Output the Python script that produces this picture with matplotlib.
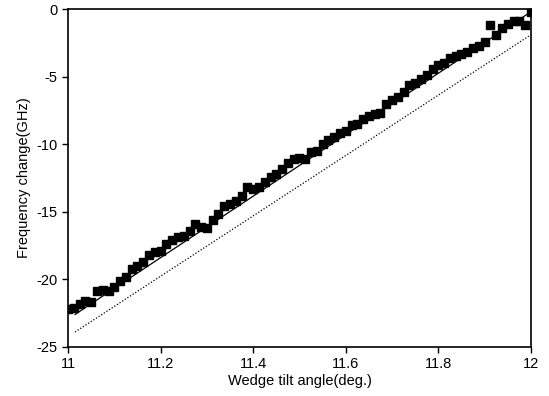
import matplotlib
matplotlib.use("Agg")
import matplotlib.pyplot as plt

angle = [11.0000, 11.0125, 11.0250, 11.0375, 11.0500, 11.0625, 11.0750, 11.0875, 11.1000, 11.1125,
         11.1250, 11.1375, 11.1500, 11.1625, 11.1750, 11.1875, 11.2000, 11.2125, 11.2250, 11.2375,
         11.2500, 11.2625, 11.2750, 11.2875, 11.3000, 11.3125, 11.3250, 11.3375, 11.3500, 11.3625,
         11.3750, 11.3875, 11.4000, 11.4125, 11.4250, 11.4375, 11.4500, 11.4625, 11.4750, 11.4875,
         11.5000, 11.5125, 11.5250, 11.5375, 11.5500, 11.5625, 11.5750, 11.5875, 11.6000, 11.6125,
         11.6250, 11.6375, 11.6500, 11.6625, 11.6750, 11.6875, 11.7000, 11.7125, 11.7250, 11.7375,
         11.7500, 11.7625, 11.7750, 11.7875, 11.8000, 11.8125, 11.8250, 11.8375, 11.8500, 11.8625,
         11.8750, 11.8875, 11.9000, 11.9125, 11.9250, 11.9375, 11.9500, 11.9625, 11.9750, 11.9875,
         12.0000]
freq = [-22.2, -22.1, -21.8, -21.6, -21.7, -20.9, -20.8, -20.9, -20.6, -20.1,
        -19.8, -19.2, -19.0, -18.7, -18.2, -18.0, -17.9, -17.4, -17.1, -16.9,
        -16.8, -16.4, -15.9, -16.1, -16.2, -15.6, -15.2, -14.6, -14.4, -14.2,
        -13.8, -13.2, -13.3, -13.2, -12.8, -12.4, -12.2, -11.8, -11.4, -11.1,
        -11.0, -11.1, -10.6, -10.5, -10.0, -9.7, -9.5, -9.2, -9.0, -8.6,
        -8.5, -8.1, -7.9, -7.8, -7.7, -7.0, -6.7, -6.5, -6.1, -5.6,
        -5.5, -5.2, -4.9, -4.4, -4.1, -4.0, -3.6, -3.5, -3.3, -3.2,
        -2.9, -2.7, -2.4, -1.2, -1.9, -1.4, -1.1, -0.9, -0.9, -1.2,
        -0.2]

fit_x = [11.015, 12.0]
fit_y = [-22.6, -0.2]
theory_x = [11.015, 12.0]
theory_y = [-23.9, -1.9]

xticks = [11, 11.2, 11.4, 11.6, 11.8, 12]
xticklabels = ["11", "11.2", "11.4", "11.6", "11.8", "12"]
yticks = [0, -5, -10, -15, -20, -25]
yticklabels = ["0", "-5", "-10", "-15", "-20", "-25"]

plt.rcParams['font.family'] = ['Liberation Sans', 'DejaVu Sans']

fig = plt.figure(figsize=(5.49, 3.96), dpi=100)
ax = fig.add_axes([0.124, 0.124, 0.843, 0.853])

ax.plot(theory_x, theory_y, color='black', linestyle=(0, (1, 1.5)), linewidth=0.9)
ax.plot(fit_x, fit_y, color='black', linestyle='-', linewidth=0.9)
ax.plot(angle, freq, linestyle='none', marker='s', markersize=5.6, color='black')

ax.set_xlim(11, 12)
ax.set_ylim(-25, 0)
ax.set_xticks(xticks)
ax.set_xticklabels(xticklabels)
ax.set_yticks(yticks)
ax.set_yticklabels(yticklabels)
ax.tick_params(direction='out', length=4, width=1, labelsize=10.5, colors='black')
for s in ax.spines.values():
    s.set_linewidth(1.2)

ax.set_xlabel("Wedge tilt angle(deg.)", fontsize=10.5, labelpad=2)
ax.set_ylabel("Frequency change(GHz)", fontsize=10.5, labelpad=4)

fig.savefig("out.png", dpi=100)
